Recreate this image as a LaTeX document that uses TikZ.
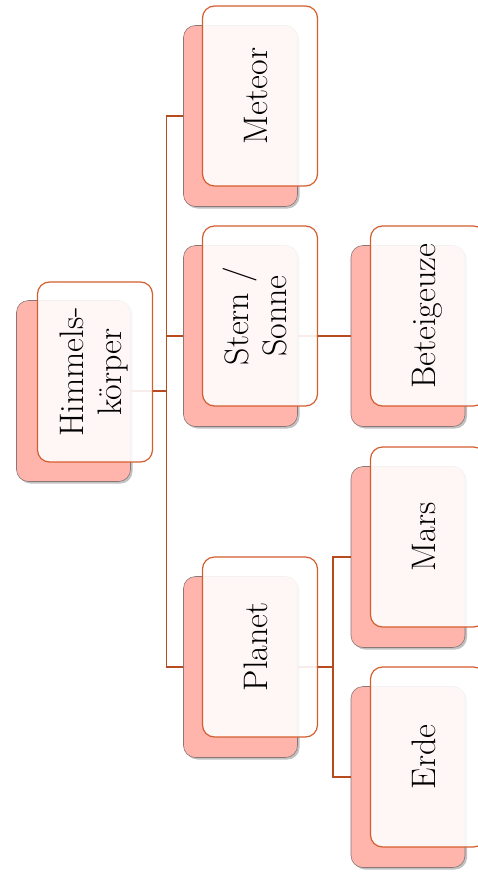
\documentclass[tikz,border=0pt]{standalone}
\usepackage{graphicx}
\usetikzlibrary{shadows,positioning}
\definecolor{cardpink}{HTML}{FFB4AC}
\definecolor{cardedge}{HTML}{8A7878}
\definecolor{frontedge}{HTML}{D45D2E}
\definecolor{linkbrown}{HTML}{B84A20}
\newcommand{\uplabel}[1]{\rotatebox{90}{\begin{tabular}{@{}c@{}}#1\end{tabular}}}

\begin{document}
\begin{tikzpicture}[
    x=1pt, y=-1pt,
    back/.style={draw=cardedge, line width=0.6pt, fill=cardpink, rounded corners=12pt, minimum width=114pt, minimum height=181pt,
        drop shadow={shadow xshift=2pt, shadow yshift=-2pt, opacity=0.35, fill=black!70}},
    front/.style={draw=frontedge, line width=1.2pt, fill=white, fill opacity=0.9, text opacity=1, rounded corners=12pt,
        minimum width=115pt, minimum height=180pt, inner sep=0pt, font=\fontsize{34}{38}\selectfont},
    link/.style={draw=linkbrown, line width=1.5pt}
]
\useasboundingbox (0,0) rectangle (477,878);

% ---- Back cards ----
\node[back] (root) at (73.5, 391) {};
\node[back] (meteor) at (240.5, 116) {};
\node[back] (stern) at (240.5, 336) {};
\node[back] (planet) at (240.5, 667) {};
\node[back] (bete) at (408, 336) {};
\node[back] (mars) at (408, 557) {};
\node[back] (erde) at (408, 777) {};

% ---- Connectors ----
\draw[link] (root.east) -- ++(35.5,0) coordinate (busA) |- (meteor.west);
\draw[link] (busA) |- (stern.west);
\draw[link] (busA) |- (planet.west);
\draw[link] (stern.east) -- (bete.west);
\draw[link] (planet.east) -- ++(35,0) coordinate (busB) |- (mars.west);
\draw[link] (busB) |- (erde.west);

% ---- Front cards ----
\node[front] (rootF) at (95, 372) {\uplabel{Himmels-\\körper}};
\node[front] (meteorF) at (260, 96) {\uplabel{Meteor}};
\node[front] (sternF) at (260, 316) {\uplabel{Stern /\\Sonne}};
\node[front] (planetF) at (260, 647) {\uplabel{Planet}};
\node[front] (beteF) at (428, 316) {\uplabel{Beteigeuze}};
\node[front] (marsF) at (428, 537) {\uplabel{Mars}};
\node[front] (erdeF) at (428, 757) {\uplabel{Erde}};

\end{tikzpicture}
\end{document}
